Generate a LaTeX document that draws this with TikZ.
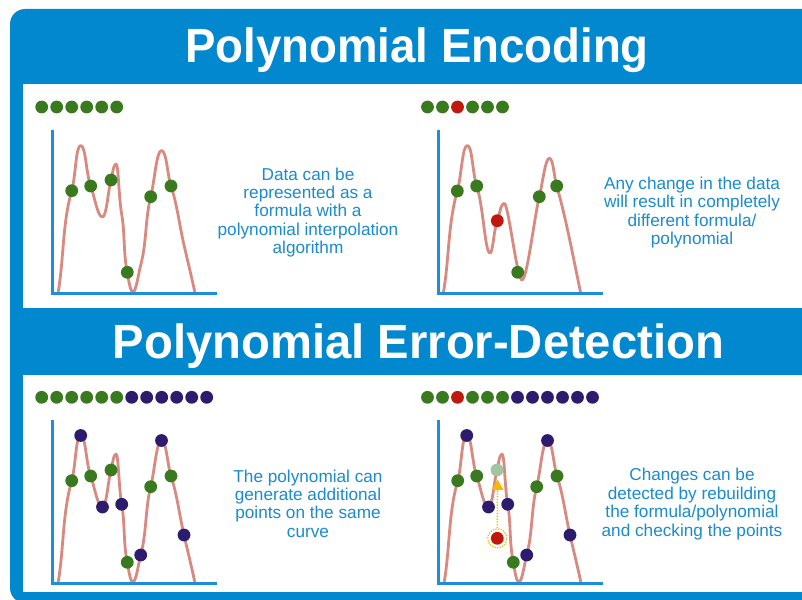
\documentclass[tikz,border=0pt]{standalone}
\usepackage{fontspec}
\setmainfont{Liberation Sans}
\newfontfamily\titlefont[FakeStretch=0.95]{Liberation Sans Bold}
\usetikzlibrary{shapes.geometric}
\definecolor{frameblue}{HTML}{0288CF}
\definecolor{axisblue}{HTML}{1C8EDB}
\definecolor{textblue}{HTML}{1A8BD0}
\definecolor{curvecol}{HTML}{D98A80}
\definecolor{dotgreen}{HTML}{3A7A1E}
\definecolor{dotpurple}{HTML}{2D1C6E}
\definecolor{dotred}{HTML}{C0180C}
\definecolor{dotlight}{HTML}{A2C4A0}
\definecolor{amber}{HTML}{F6B800}
\tikzset{
  curve/.style={draw=curvecol, line width=2.8pt, line join=round},
  axisline/.style={draw=axisblue, line width=2.8pt},
  dot/.style={circle, inner sep=0pt, minimum size=12.8pt},
  body/.style={text=textblue, align=center, font=\fontsize{17.2}{18.4}\selectfont},
  titletext/.style={text=white, anchor=base, font=\titlefont\fontsize{48}{50}\selectfont},
}
\begin{document}
\begin{tikzpicture}[x=1pt,y=-1pt]
\useasboundingbox (0,0) rectangle (802,599);
\fill[white] (0,0) rectangle (802,599);
% frame
\fill[frameblue, rounded corners=15pt] (10,9) rectangle (840,603);
\fill[white] (23,84) rectangle (803,308);
\fill[white] (23,375) rectangle (803,592);
% titles
\node[titletext] (title1) at (417,63) {Polynomial Encoding};
\node[titletext] (title2) at (418.5,358) {\scalebox{1.035}[1]{Polynomial Error-Detection}};

% shared curve (left panels and bottom-right)
\foreach \dx/\dy in {0/0, 0/290, 386/290}{
\begin{scope}[shift={(\dx,\dy)}]
\draw[curve] (58,293)
 .. controls +(5.9,-33.5) and +(-9.4,32.7) .. (71.7,190.7)
 .. controls +(4.1,-14.4) and +(-5,0) .. (80.7,145.5)
 .. controls +(5,0) and +(-4.8,-13.2) .. (90.7,186)
 .. controls +(3.8,10.3) and +(-5,0) .. (102.5,217)
 .. controls +(4,0) and +(-3.1,11.6) .. (111,180)
 .. controls +(1.3,-4.8) and +(-2.5,0) .. (116,164)
 .. controls +(2.5,0) and +(-3,-16.7) .. (121.7,214.3)
 .. controls +(3.3,18.7) and +(-4,-18.6) .. (127.3,272.3)
 .. controls +(1.2,5.9) and +(-3,0) .. (133,292)
 .. controls +(3,0) and +(-2.3,8.7) .. (140.7,265)
 .. controls +(6,-22.2) and +(-5.6,22.3) .. (150.7,196.7)
 .. controls +(3.9,-15.5) and +(-5,0) .. (161.5,150.5)
 .. controls +(5,0) and +(-3.7,-11.4) .. (171,186)
 .. controls +(6.2,19) and +(-4.5,-19.5) .. (184,245)
 .. controls +(3.6,15.6) and +(-3.3,-15.6) .. (195,293);
\draw[axisline] (52.3,130) |- (216.7,293.3);
\end{scope}
}
% top-right curve
\draw[curve] (443.3,293)
 .. controls +(5.9,-33.5) and +(-9.4,32.7) .. (457.3,191)
 .. controls +(4.1,-14.4) and +(-5,0) .. (467.3,145.5)
 .. controls +(5,0) and +(-4.3,-13.3) .. (476.7,186)
 .. controls +(6.8,20.9) and +(-5,0) .. (490,253)
 .. controls +(3,0) and +(-3.8,10.3) .. (497.3,220.7)
 .. controls +(2.4,-6.6) and +(-3.5,0) .. (504.3,203.3)
 .. controls +(4,0) and +(-5,0) .. (522,280)
 .. controls +(5,0) and +(-4.8,19.4) .. (539.3,196.7)
 .. controls +(3.1,-12.6) and +(-4,0) .. (549.3,158.3)
 .. controls +(4,0) and +(-2.8,-9.6) .. (556.7,186)
 .. controls +(9.9,34.6) and +(-7.5,-35.2) .. (580.7,293);
\draw[axisline] (438.3,130) |- (602.7,293.3);

% rows of data dots
\foreach \k in {0,...,5}
  \node[dot, fill=dotgreen] (rowa\k) at ({41.7+15*\k},107) {};
\foreach \k/\c in {0/dotgreen,1/dotgreen,2/dotred,3/dotgreen,4/dotgreen,5/dotgreen}
  \node[dot, fill=\c] (rowb\k) at ({427.5+15*\k},107) {};
\foreach \k/\c in {0/dotgreen,1/dotgreen,2/dotgreen,3/dotgreen,4/dotgreen,5/dotgreen,6/dotpurple,7/dotpurple,8/dotpurple,9/dotpurple,10/dotpurple,11/dotpurple}
  \node[dot, fill=\c] (rowc\k) at ({41.7+15*\k},397.3) {};
\foreach \k/\c in {0/dotgreen,1/dotgreen,2/dotred,3/dotgreen,4/dotgreen,5/dotgreen,6/dotpurple,7/dotpurple,8/dotpurple,9/dotpurple,10/dotpurple,11/dotpurple}
  \node[dot, fill=\c] (rowd\k) at ({427.5+15*\k},397.3) {};

% top-left dots
\foreach \x/\y [count=\i] in {71.7/190.7, 90.7/186, 111/180, 127.3/272.3, 150.7/196.7, 171/186}
  \node[dot, fill=dotgreen] (ga\i) at (\x,\y) {};
% top-right dots
\foreach \x/\y/\c [count=\i] in {457.3/191/dotgreen, 476.7/186/dotgreen, 497.3/220.7/dotred, 517.7/272.3/dotgreen, 539.3/196.7/dotgreen, 556.7/186/dotgreen}
  \node[dot, fill=\c] (gb\i) at (\x,\y) {};
% bottom-left dots
\foreach \x/\y [count=\i] in {71.7/480.7, 90.7/476, 111/470, 127.3/562.3, 150.7/486.7, 171/476}
  \node[dot, fill=dotgreen] (gc\i) at (\x,\y) {};
\foreach \x/\y [count=\i] in {80.7/435.5, 102.5/507, 121.7/504.3, 140.7/555, 161.5/440.5, 184/535}
  \node[dot, fill=dotpurple] (pc\i) at (\x,\y) {};
% bottom-right dots
\foreach \x/\y/\c [count=\i] in {457.7/480.7/dotgreen, 476.7/476/dotgreen, 497/470/dotlight, 513.3/562.3/dotgreen, 536.7/486.7/dotgreen, 557/476/dotgreen}
  \node[dot, fill=\c] (gd\i) at (\x,\y) {};
\foreach \x/\y [count=\i] in {466.7/435.5, 488.5/507, 507.7/504.3, 526.7/555, 547.5/440.5, 570/535}
  \node[dot, fill=dotpurple] (pd\i) at (\x,\y) {};
% detected error
\node[dot, fill=dotred] (bad) at (497.3,538.3) {};
\node[circle, draw=amber, line width=1.3pt, dash pattern=on 1.2pt off 1.4pt, minimum size=19pt, inner sep=0pt] (halo) at (497.3,538.3) {};
\node[regular polygon, regular polygon sides=3, fill=amber, inner sep=0pt, minimum size=14pt] (tri) at (497.5,486.4) {};
\draw[amber, line width=1.5pt, dash pattern=on 1.3pt off 1.5pt] (halo.north) -- (tri.south);

% texts
\node[body] (txt1) at (308,212.5) {Data can be\\represented as a\\formula with a\\polynomial interpolation\\algorithm};
\node[body] (txt2) at (692,212.5) {Any change in the data\\will result in completely\\different formula/\\polynomial};
\node[body] (txt3) at (308,503.5) {The polynomial can\\generate additional\\points on the same\\curve};
\node[body] (txt4) at (692,504) {Changes can be\\detected by rebuilding\\the formula/polynomial\\and checking the points};
\end{tikzpicture}
\end{document}
